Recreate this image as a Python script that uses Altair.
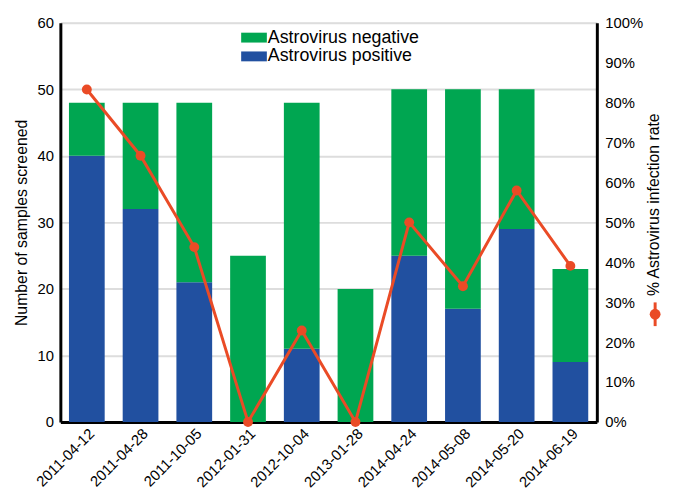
import altair as alt
import pandas as pd

dates = ["2011-04-12", "2011-04-28", "2011-10-05", "2012-01-31", "2012-10-04",
         "2013-01-28", "2014-04-24", "2014-05-08", "2014-05-20", "2014-06-19"]
positive = [40, 32, 21, 0, 11, 0, 25, 17, 29, 9]
negative = [8, 16, 27, 25, 37, 20, 25, 33, 21, 14]
rate = [83.3, 66.7, 43.8, 0.0, 22.9, 0.0, 50.0, 34.0, 58.0, 39.1]
left_ticks = [0, 10, 20, 30, 40, 50, 60]
right_ticks = [0, 10, 20, 30, 40, 50, 60, 70, 80, 90, 100]
status = ["Astrovirus negative", "Astrovirus positive"]

GREEN = "#00a651"
BLUE = "#2150a0"
RED = "#ea4b26"
FONT = "Liberation Sans"
W, H = 543, 404

rows = []
for d, p, n in zip(dates, positive, negative):
    rows.append({"date": d, "status": status[1], "count": p, "ord": 0})
    rows.append({"date": d, "status": status[0], "count": n, "ord": 1})
bars_df = pd.DataFrame(rows)
line_df = pd.DataFrame({"date": dates, "rate": rate})
one = pd.DataFrame({"k": [0]})

xenc = alt.X("date:N", sort=dates,
             scale=alt.Scale(paddingInner=0.335, paddingOuter=0.16),
             axis=alt.Axis(title=None, labelAngle=315, labelFontSize=15, labelPadding=4,
                           ticks=False, domainColor="black", domainWidth=3,
                           labelColor="black", labelFont=FONT))

bars = alt.Chart(bars_df).mark_bar().encode(
    x=xenc,
    y=alt.Y("count:Q", stack="zero",
            scale=alt.Scale(domain=[0, 60], nice=False),
            axis=alt.Axis(title="Number of samples screened", values=left_ticks,
                          ticks=False, labelPadding=7, titlePadding=8,
                          titleFontSize=16, titleFontWeight="normal", labelFontSize=15,
                          grid=True, gridColor="#dddddd", gridWidth=2,
                          domainColor="black", domainWidth=3,
                          labelColor="black", titleColor="black",
                          labelFont=FONT, titleFont=FONT)),
    color=alt.Color("status:N",
                    scale=alt.Scale(domain=status, range=[GREEN, BLUE]),
                    legend=alt.Legend(title=None, orient="none", legendX=186, legendY=5,
                                      symbolType="M-1.3,-0.5H1.3V0.5H-1.3Z",
                                      symbolSize=400, symbolStrokeWidth=0,
                                      labelFontSize=18, labelFont=FONT, labelColor="black",
                                      labelOffset=4, rowPadding=0, padding=0,
                                      labelLimit=300)),
    order=alt.Order("ord:Q", sort="ascending"),
)

yr = alt.Y("rate:Q", scale=alt.Scale(domain=[0, 100], nice=False),
           axis=alt.Axis(orient="right", title="% Astrovirus infection rate",
                         values=right_ticks, labelExpr="datum.value + '%'",
                         ticks=False, labelPadding=8, grid=False,
                         titleAngle=270, titleAlign="left", titleBaseline="middle",
                         titleX=57, titleY=round(H * 0.683),
                         titleFontSize=16, titleFontWeight="normal", labelFontSize=15,
                         domainColor="black", domainWidth=3,
                         labelColor="black", titleColor="black",
                         labelFont=FONT, titleFont=FONT))

line = alt.Chart(line_df).mark_line(color=RED, strokeWidth=3).encode(x=xenc, y=yr)
pts = alt.Chart(line_df).mark_point(color=RED, filled=True, opacity=1, size=100).encode(x=xenc, y=yr)
right = alt.layer(line, pts)

glyph_rule = alt.Chart(one).mark_rule(color=RED, strokeWidth=3).encode(
    x=alt.value(W + 59), y=alt.value(round(H * 0.70)), y2=alt.value(round(H * 0.76)))
glyph_pt = alt.Chart(one).mark_point(color=RED, filled=True, opacity=1, size=120).encode(
    x=alt.value(W + 59), y=alt.value(round(H * 0.729)))

chart = alt.layer(bars, right, glyph_rule, glyph_pt).resolve_scale(y="independent").properties(
    width=W, height=H
).configure_view(stroke=None).configure(font=FONT)

chart.save("out.html", embed_options={"renderer": "svg", "actions": False})
